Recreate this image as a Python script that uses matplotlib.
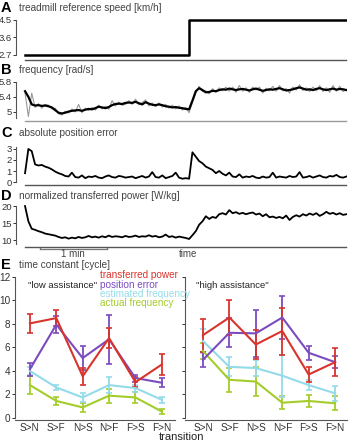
import numpy as np
import matplotlib
matplotlib.use("Agg")
import matplotlib.pyplot as plt
from matplotlib.patches import ConnectionPatch

plt.rcParams['font.family'] = ['Liberation Sans', 'DejaVu Sans']

# ---------------- data ----------------
dt = 3.0  # seconds between samples
step_time = 147.0
speed_t = [0, step_time, step_time, 288]
speed_v = [2.7, 2.7, 4.5, 4.5]

freq_smooth = [5.55, 5.40, 5.20, 5.17, 5.18, 5.16, 5.17, 5.15, 5.12, 5.05,
               4.98, 4.96, 4.98, 5.01, 5.03, 5.04, 5.05, 5.03, 5.06, 5.08,
               5.07, 5.10, 5.14, 5.12, 5.10, 5.13, 5.18, 5.21, 5.22, 5.21,
               5.24, 5.25, 5.24, 5.27, 5.23, 5.20, 5.26, 5.22, 5.19, 5.18,
               5.20, 5.18, 5.15, 5.14, 5.12, 5.13, 5.11, 5.10, 5.08, 5.07,
               5.30, 5.55, 5.63, 5.58, 5.52, 5.53, 5.56, 5.55, 5.58, 5.60,
               5.59, 5.62, 5.60, 5.58, 5.60, 5.61, 5.59, 5.57, 5.60, 5.62,
               5.59, 5.56, 5.58, 5.60, 5.59, 5.61, 5.63, 5.60, 5.57, 5.58,
               5.60, 5.63, 5.65, 5.62, 5.59, 5.60, 5.58, 5.61, 5.63, 5.60,
               5.58, 5.60, 5.62, 5.59, 5.61, 5.60, 5.58]

freq_raw = [5.50, 4.88, 5.50, 5.12, 5.22, 5.10, 5.20, 5.18, 5.08, 5.10,
            4.95, 4.92, 5.02, 4.97, 5.08, 5.00, 5.20, 4.98, 5.10, 5.04,
            5.12, 5.05, 5.18, 5.08, 5.15, 5.07, 5.30, 5.16, 5.26, 5.18,
            5.20, 5.30, 5.20, 5.34, 5.19, 5.25, 5.32, 5.16, 5.24, 5.14,
            5.24, 5.13, 5.20, 5.10, 5.18, 5.08, 5.16, 5.05, 5.12, 4.98,
            5.25, 5.50, 5.68, 5.54, 5.56, 5.48, 5.62, 5.52, 5.64, 5.56,
            5.66, 5.55, 5.66, 5.52, 5.70, 5.55, 5.64, 5.52, 5.66, 5.58,
            5.66, 5.50, 5.63, 5.56, 5.68, 5.55, 5.70, 5.56, 5.62, 5.50,
            5.66, 5.58, 5.72, 5.57, 5.64, 5.54, 5.66, 5.56, 5.70, 5.54,
            5.64, 5.52, 5.70, 5.55, 5.68, 5.54, 5.60]

pos_error = [0.8, 3.0, 2.8, 1.6, 1.5, 1.55, 1.4, 1.3, 1.15, 0.95,
             0.8, 0.7, 0.55, 0.5, 0.85, 0.45, 0.4, 0.6, 0.35, 0.5,
             0.45, 0.55, 0.4, 0.35, 0.5, 0.6, 0.45, 0.4, 0.55, 0.5,
             0.4, 0.45, 0.5, 0.35, 0.45, 0.55, 0.4, 0.5, 0.9, 0.45,
             0.4, 0.6, 0.35, 0.45, 0.55, 0.85, 0.4, 0.3, 0.35, 0.3,
             2.7, 2.3, 1.9, 1.7, 1.4, 1.25, 1.1, 0.8, 1.0, 0.75,
             0.6, 0.85, 0.5, 0.45, 0.7, 0.4, 0.5, 0.45, 0.55, 0.4,
             0.35, 0.5, 0.4, 0.45, 0.85, 0.4, 0.5, 0.45, 0.4, 0.55,
             0.45, 0.5, 0.9, 0.4, 0.45, 0.55, 0.4, 0.5, 0.6, 0.45,
             0.4, 0.55, 0.5, 0.65, 0.45, 0.4, 0.5]

power = [20.0, 15.5, 13.3, 13.0, 12.6, 12.3, 11.9, 11.7, 11.5, 11.3,
         10.9, 10.6, 10.8, 10.4, 10.7, 10.5, 10.9, 10.6, 10.8, 11.2,
         10.8, 11.0, 10.7, 11.1, 10.8, 11.3, 10.9, 11.1, 11.0, 10.8,
         11.2, 10.9, 11.0, 11.3, 10.9, 11.1, 11.0, 11.4, 11.0, 11.2,
         10.8, 11.0, 11.6, 10.9, 11.1, 10.7, 11.0, 10.8, 10.6, 10.3,
         11.4, 12.6, 14.5, 15.5, 17.0, 16.2, 16.8, 16.5, 17.6, 17.9,
         17.5, 18.8, 17.9, 18.2, 17.7, 18.0, 17.6, 17.9, 18.1, 17.5,
         17.8, 17.0, 17.6, 16.7, 16.9, 16.5, 16.8, 16.4, 17.2, 15.9,
         16.8, 17.3, 16.9, 17.6, 17.2, 17.8, 17.4, 17.9, 17.1, 17.6,
         18.3, 17.7, 18.0, 17.5, 17.9, 17.4, 17.6]

transitions = ["S>N", "S>F", "N>S", "N>F", "F>S", "F>N"]
series_names = ["transferred power", "position error",
                "estimated frequency", "actual frequency"]

low_mean = {
    "transferred power":   [8.05, 8.5, 3.55, 6.8, 3.05, 4.55],
    "position error":      [4.15, 7.95, 5.1, 6.7, 3.4, 3.0],
    "estimated frequency": [4.0, 2.6, 1.75, 2.8, 2.55, 1.55],
    "actual frequency":    [2.8, 1.45, 0.9, 1.9, 1.75, 0.55],
}
low_err = {
    "transferred power":   [0.8, 0.65, 0.7, 0.85, 0.4, 0.9],
    "position error":      [0.55, 0.7, 1.0, 2.1, 0.3, 0.4],
    "estimated frequency": [0.35, 0.25, 0.35, 0.65, 0.3, 0.25],
    "actual frequency":    [0.8, 0.35, 0.4, 0.6, 0.45, 0.25],
}
high_mean = {
    "transferred power":   [7.05, 8.55, 6.25, 7.4, 3.7, 4.75],
    "position error":      [4.95, 7.25, 7.2, 8.55, 5.55, 4.75],
    "estimated frequency": [6.55, 4.35, 4.25, 3.6, 2.8, 2.1],
    "actual frequency":    [5.7, 3.25, 3.1, 1.3, 1.45, 1.25],
}
high_err = {
    "transferred power":   [1.4, 1.5, 1.25, 2.0, 0.6, 1.2],
    "position error":      [0.65, 1.25, 2.0, 1.85, 0.6, 0.5],
    "estimated frequency": [1.0, 0.8, 0.7, 1.8, 0.4, 0.65],
    "actual frequency":    [0.7, 1.0, 1.2, 0.55, 0.5, 0.6],
}
colors = {
    "transferred power": "#d8342c",
    "position error": "#7b4bc0",
    "estimated frequency": "#94dbe9",
    "actual frequency": "#a4cc2a",
}

# ---------------- figure ----------------
W, H = 351, 443
fig = plt.figure(figsize=(W / 100, H / 100), dpi=100)


def ax_px(x0, y0, x1, y1):
    return fig.add_axes([x0 / W, 1 - y1 / H, (x1 - x0) / W, (y1 - y0) / H])


t = np.arange(len(power)) * dt
XL = (-8.1, 288.5)
tick_col = "#333333"
title_col = "#444444"


def style_ts(ax, ticks, ticklabels, bounds, ylim, bottom_col="#555555"):
    ax.set_xlim(*XL)
    ax.set_ylim(*ylim)
    for s in ["top", "right"]:
        ax.spines[s].set_visible(False)
    ax.spines["left"].set_bounds(*bounds)
    ax.spines["left"].set_color("#555555")
    ax.spines["left"].set_linewidth(0.8)
    ax.spines["bottom"].set_bounds(0, 288)
    ax.spines["bottom"].set_color(bottom_col)
    ax.spines["bottom"].set_linewidth(1.0)
    ax.set_xticks([])
    ax.set_yticks(ticks)
    ax.set_yticklabels(ticklabels)
    ax.tick_params(axis="y", length=2.2, width=0.7, pad=0.8, labelsize=6.8,
                   colors=tick_col, direction="out")
    ax.patch.set_visible(False)


# Panel A
axA = ax_px(16, 17, 347, 60)
axA.plot(speed_t, speed_v, color="black", lw=1.8)
style_ts(axA, [2.7, 3.6, 4.5], ["2.7", "3.6", "4.5"], (2.7, 4.5), (2.44, 4.65))

# Panel B
axB = ax_px(16, 78, 347, 121)
axB.plot(t, freq_raw, color="#999999", lw=0.8)
axB.plot(t, freq_smooth, color="black", lw=1.6)
style_ts(axB, [5.0, 5.4, 5.8], ["5", "5.4", "5.8"], (4.85, 5.8), (4.76, 5.9),
         bottom_col="#9a9a9a")

# Panel C
axC = ax_px(16, 145, 347, 185)
axC.plot(t, pos_error, color="black", lw=1.3)
style_ts(axC, [0, 1, 2, 3], ["0", "1", "2", "3"], (0, 3.2), (-0.27, 3.36))

# Panel D
axD = ax_px(16, 203, 347, 247)
axD.plot(t, power, color="black", lw=1.3)
style_ts(axD, [10, 15, 20], ["10", "15", "20"], (8.9, 20), (7.94, 20.9))

# vertical marker through panels
con = ConnectionPatch(xyA=(step_time, 2.44), coordsA="data", axesA=axA,
                      xyB=(step_time, 6.9), coordsB="data", axesB=axD,
                      color="#cccccc", lw=0.8, zorder=0)
fig.add_artist(con)

# 1 min scale bar
bar_y = 7.35
axD.plot([13.5, 73.5], [bar_y, bar_y], color="#777777", lw=0.9, clip_on=False)
axD.plot([13.5, 13.5], [bar_y, bar_y + 0.4], color="#777777", lw=0.9, clip_on=False)
axD.plot([73.5, 73.5], [bar_y, bar_y + 0.4], color="#777777", lw=0.9, clip_on=False)
fig.text(73 / W, 1 - 254 / H, "1 min", fontsize=7, color=title_col,
         ha="center", va="center")
fig.text(188 / W, 1 - 254 / H, "time", fontsize=7, color=title_col,
         ha="center", va="center")

# Panel labels and titles
labels = [("A", 8, "treadmill reference speed [km/h]"),
          ("B", 70, "frequency [rad/s]"),
          ("C", 133, "absolute position error"),
          ("D", 196, "normalized transferred power [W/kg]"),
          ("E", 265, "time constant [cycle]")]
for lab, yp, ttl in labels:
    fig.text(1 / W, 1 - yp / H, lab, fontsize=10.5, fontweight="bold",
             ha="left", va="center", color="black")
    fig.text(19 / W, 1 - yp / H, ttl, fontsize=7.2, ha="left", va="center",
             color=title_col)

# Panel E
x = np.arange(1, len(transitions) + 1)


def style_e(ax, xlim, show_labels):
    ax.set_xlim(*xlim)
    ax.set_ylim(-0.17, 12.2)
    for s in ["top", "right"]:
        ax.spines[s].set_visible(False)
    ax.spines["left"].set_bounds(0, 12)
    ax.spines["left"].set_color("#555555")
    ax.spines["left"].set_linewidth(0.8)
    ax.spines["bottom"].set_color("#555555")
    ax.spines["bottom"].set_linewidth(0.8)
    ax.set_yticks([0, 2, 4, 6, 8, 10, 12])
    if not show_labels:
        ax.set_yticklabels([])
    ax.set_xticks(x)
    ax.set_xticklabels(transitions)
    ax.tick_params(axis="y", length=2.5, width=0.7, pad=1, labelsize=7.2,
                   colors=tick_col)
    ax.tick_params(axis="x", length=0, pad=2.2, labelsize=7.2, colors=tick_col)
    ax.patch.set_visible(False)


axEL = ax_px(15, 274.6, 175, 420)
axER = ax_px(185, 274.6, 347, 420)
for ax, means, errs in [(axEL, low_mean, low_err), (axER, high_mean, high_err)]:
    for name in reversed(series_names):
        ax.errorbar(x, means[name], yerr=errs[name], color=colors[name],
                    lw=1.5, elinewidth=1.3, capsize=2.2, capthick=1.2)
style_e(axEL, (0.434, 6.5), True)
style_e(axER, (0.32, 6.45), False)

fig.text(28 / W, 1 - 286 / H, '"low assistance"', fontsize=6.8, color="#222222",
         ha="left", va="center")
fig.text(196 / W, 1 - 286 / H, '"high assistance"', fontsize=6.8, color="#222222",
         ha="left", va="center")

for k, name in enumerate(series_names):
    fig.text(100 / W, 1 - (275 + 9.5 * k) / H, name, fontsize=7.2,
             color=colors[name], ha="left", va="center")

fig.text(182 / W, 1 - 442 / H, "transition", fontsize=8, color="#222222",
         ha="center", va="bottom")

fig.savefig("out.png", dpi=100)
